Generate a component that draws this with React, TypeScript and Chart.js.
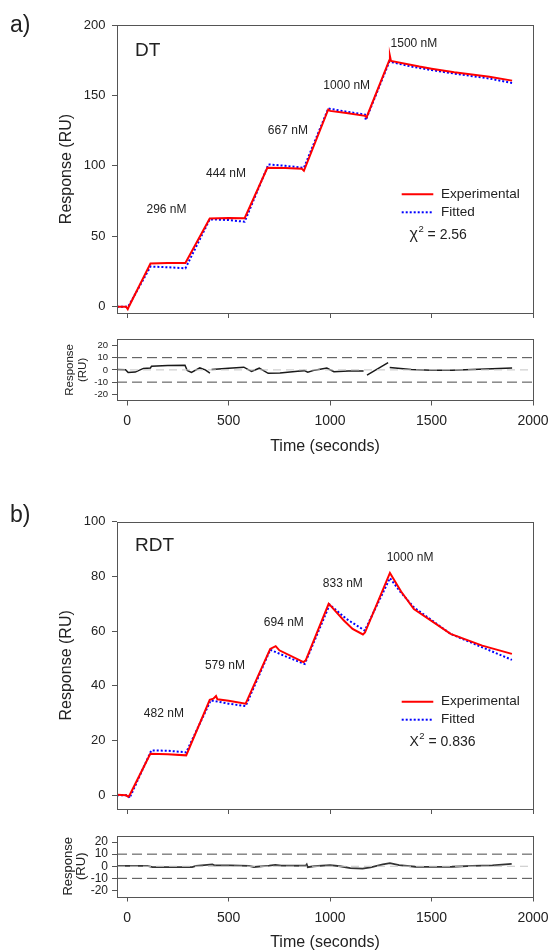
import React, { useEffect, useRef } from "react";
import { Chart, registerables } from "chart.js";

Chart.register(...registerables);

const FONT = '"Liberation Sans", Arial, Helvetica, sans-serif';
const FRAME = "#555555";
const TEXT = "#222222";
const RED = "rgb(255,0,0)";
const BLUE = "rgb(0,0,255)";

// ---- shared axes ----
const X_TICKS = [0, 500, 1000, 1500, 2000];
const A_Y_TICKS = [0, 50, 100, 150, 200];
const B_Y_TICKS = [0, 20, 40, 60, 80, 100];
const RES_Y_TICKS = [-20, -10, 0, 10, 20];
const RES_LIMITS = [10, -10];
const LEGEND_LABELS = ["Experimental", "Fitted"];
const X_TITLE = "Time (seconds)";
const Y_TITLE = "Response (RU)";

// ---- panel a (DT) ----
const A_EXP_T = [-50, -5, 3, 10, 115, 200, 287, 407, 500, 579, 691, 780, 860, 871, 991, 1000, 1080, 1172, 1180, 1292, 1295, 1300, 1440, 1500, 1612, 1785, 1897];
const A_EXP_Y = [0, 0, -1.8, 0.5, 30.7, 31, 31, 62.6, 63, 62.8, 98.6, 98.5, 98, 96.5, 140, 139, 137.5, 135.5, 134.5, 175, 178, 174.5, 170.5, 169, 166.5, 163.3, 160.5];
const A_FIT_T = [-50, 5, 115, 200, 287, 407, 500, 579, 696, 780, 871, 991, 1080, 1172, 1176, 1292, 1400, 1500, 1612, 1785, 1897];
const A_FIT_Y = [0, 0, 28.5, 28, 27.2, 62, 61.5, 60.3, 101, 100, 98.6, 140.7, 138.5, 136.4, 132.5, 174, 170.5, 168, 165.5, 162, 158.8];
const A_RES_T = [-50, -8, 5, 40, 80, 115, 120, 200, 285, 296, 317, 358, 385, 408, 412, 416, 500, 575, 613, 651, 695, 753, 840, 873, 890, 924, 984, 1019, 1090, 1165, 1172, 1182, 1286, 1290, 1294, 1400, 1500, 1600, 1700, 1800, 1897];
const A_RES_Y = [0.3, 0.2, -2.2, -1.8, 1.2, 1.6, 3, 3.6, 3.8, -0.5, -2, 1.6, 0, -2.6, null, 0.3, 1.4, 2.2, -1.2, 1.4, -2.8, -2.5, -1.2, -0.6, -1.8, -0.2, 1.5, -1.5, -1, -1, null, -4.3, 5.9, null, 2, 0.3, -0.2, -0.2, 0.3, 0.9, 1.5];
const A_CONC_LABELS = ["296 nM", "444 nM", "667 nM", "1000 nM", "1500 nM"];
const A_CONC_T = [194, 487, 792, 1082, 1413];
const A_CONC_Y = [68.7, 94.2, 124.7, 156.7, 187];
const A_NAME = "DT";
const A_CHI = "2.56";

// ---- panel b (RDT) ----
const B_EXP_T = [-50, -5, 5, 12, 114, 200, 291, 407, 425, 438, 445, 500, 584, 705, 732, 750, 869, 880, 993, 1000, 1068, 1111, 1162, 1172, 1295, 1350, 1413, 1594, 1750, 1896];
const B_EXP_Y = [0.2, 0, -0.5, 0, 15.2, 15, 14.6, 34.9, 35.3, 36.3, 35.1, 34.6, 33.5, 53.5, 54.5, 53, 48.7, 49.3, 70, 69.5, 63.9, 60.8, 58.8, 59.5, 81.3, 74.5, 68.1, 59, 54.7, 51.7];
const B_FIT_T = [-50, 5, 12, 119, 200, 291, 412, 500, 584, 705, 790, 875, 998, 1080, 1171, 1295, 1350, 1413, 1594, 1750, 1896];
const B_FIT_Y = [0, 0, -1, 16.4, 16.3, 15.7, 34.7, 33.5, 32.6, 53.2, 50.5, 48, 69.7, 64.5, 60.2, 79.4, 74, 68.7, 59, 54.1, 49.5];
const B_RES_T = [-50, 100, 125, 200, 320, 340, 420, 430, 510, 600, 625, 700, 730, 760, 880, 885, 890, 920, 1000, 1050, 1100, 1160, 1200, 1260, 1295, 1340, 1420, 1500, 1600, 1700, 1800, 1895];
const B_RES_Y = [0.3, 0.3, -0.8, -0.8, -0.8, 0.3, 1.5, 0.8, 0.8, 0.3, -0.6, 0.5, 1.2, 0.5, 0.4, 1.5, -0.8, 0, 1, 0, -1.5, -2, -1, 1.5, 2.5, 1, -0.4, -0.5, -0.4, 0.3, 0.8, 2];
const B_CONC_LABELS = ["482 nM", "579 nM", "694 nM", "833 nM", "1000 nM"];
const B_CONC_T = [181, 482, 772, 1063, 1394];
const B_CONC_Y = [29.8, 47.4, 63.2, 77.5, 87];
const B_NAME = "RDT";
const B_CHI = "0.836";

const W = 549;
const AREA_LEFT = 117;
const AREA_RIGHT = 533;

const pts = (t: number[], y: (number | null)[]) => t.map((v, i) => ({ x: v, y: y[i] }));

function font(size: number) {
  return `${size}px ${FONT}`;
}

function text(ctx: CanvasRenderingContext2D, s: string, x: number, y: number, size: number, align: CanvasTextAlign = "left", baseline: CanvasTextBaseline = "alphabetic") {
  ctx.font = font(size);
  ctx.fillStyle = TEXT;
  ctx.textAlign = align;
  ctx.textBaseline = baseline;
  ctx.fillText(s, x, y);
}

function vtext(ctx: CanvasRenderingContext2D, s: string, x: number, y: number, size: number) {
  ctx.save();
  ctx.translate(x, y);
  ctx.rotate(-Math.PI / 2);
  text(ctx, s, 0, 0, size, "center", "middle");
  ctx.restore();
}

type Spec = {
  key: string;
  top: number;
  height: number;
  areaTop: number;
  areaBottom: number;
  yMin: number;
  yMax: number;
  yTicks: number[];
  yTickSize: number;
  yTickPad: number;
  xLabels: boolean;
  xTickPad: number;
  datasets: any[];
  draw: (ctx: CanvasRenderingContext2D, chart: any) => void;
};

function mainDatasets(et: number[], ey: number[], ft: number[], fy: number[]) {
  return [
    { label: LEGEND_LABELS[0], data: pts(et, ey), borderColor: RED, borderWidth: 2, pointRadius: 0, tension: 0, fill: false },
    { label: LEGEND_LABELS[1], data: pts(ft, fy), borderColor: BLUE, borderWidth: 2, borderDash: [2, 2], pointRadius: 0, tension: 0, fill: false },
  ];
}

function resDatasets(rt: number[], ry: (number | null)[], color: string, width: number) {
  const ends = [X_TICKS[0] - 50, X_TICKS[X_TICKS.length - 1]];
  return [
    { data: pts(ends, [0, 0]), borderColor: "#c4c4c4", borderWidth: 1, borderDash: [8, 5], pointRadius: 0 },
    ...RES_LIMITS.map((v) => ({ data: pts(ends, [v, v]), borderColor: "#4a4a4a", borderWidth: 1, borderDash: [10, 5], pointRadius: 0 })),
    { data: pts(rt, ry), borderColor: color, borderWidth: width, pointRadius: 0, tension: 0, spanGaps: false },
  ];
}

function drawMain(name: string, letter: string, letterY: number, nameDy: number, labels: string[], lt: number[], ly: number[], legDy: number, chiDy: number, chiSym: string, chiSize: number, chi: string) {
  return (ctx: CanvasRenderingContext2D, chart: any) => {
    const a = chart.chartArea;
    const sx = chart.scales.x;
    const sy = chart.scales.y;
    text(ctx, letter, 10, letterY, 23);
    text(ctx, name, a.left + 18, a.top + nameDy, 19);
    labels.forEach((s, i) => text(ctx, s, sx.getPixelForValue(lt[i]), sy.getPixelForValue(ly[i]), 12, "center", "middle"));
    vtext(ctx, Y_TITLE, 66.5, (a.top + a.bottom) / 2, 16);
    // legend
    const x0 = a.right - 131.3;
    const x1 = a.right - 99.7;
    const rows = [a.top + legDy, a.top + legDy + 18];
    const styles = [
      { c: RED, d: [] as number[] },
      { c: BLUE, d: [2, 2] },
    ];
    rows.forEach((y, i) => {
      ctx.save();
      ctx.strokeStyle = styles[i].c;
      ctx.lineWidth = 2;
      ctx.setLineDash(styles[i].d);
      ctx.beginPath();
      ctx.moveTo(x0, y);
      ctx.lineTo(x1, y);
      ctx.stroke();
      ctx.restore();
      text(ctx, LEGEND_LABELS[i], a.right - 92, y, 13.5, "left", "middle");
    });
    const cy = a.top + chiDy;
    let cx = a.right - 123.5;
    ctx.font = font(chiSize);
    text(ctx, chiSym, cx, cy + 5, chiSize);
    cx += ctx.measureText(chiSym).width + 0.5;
    text(ctx, "2", cx, cy - 2, 9.5);
    ctx.font = font(9.5);
    cx += ctx.measureText("2").width;
    text(ctx, " = " + chi, cx, cy + 5, 14);
  };
}

function drawRes(nameX: number, size: number, titleY: number) {
  return (ctx: CanvasRenderingContext2D, chart: any) => {
    const a = chart.chartArea;
    const mid = (a.top + a.bottom) / 2;
    vtext(ctx, "Response", nameX, mid, size);
    vtext(ctx, "(RU)", nameX + 13, mid, size);
    text(ctx, X_TITLE, (a.left + a.right) / 2, titleY, 16, "center", "middle");
  };
}

const SPECS: Spec[] = [
  {
    key: "a1", top: 0, height: 320, areaTop: 25, areaBottom: 313,
    yMin: -4.5, yMax: 200, yTicks: A_Y_TICKS, yTickSize: 13, yTickPad: 6.5, xLabels: false, xTickPad: 7,
    datasets: mainDatasets(A_EXP_T, A_EXP_Y, A_FIT_T, A_FIT_Y),
    draw: drawMain(A_NAME, "a)", 31.5, 31, A_CONC_LABELS, A_CONC_T, A_CONC_Y, 169.3, 209, "\u03c7", 16, A_CHI),
  },
  {
    key: "a2", top: 325, height: 135, areaTop: 14.3, areaBottom: 75.5,
    yMin: -25, yMax: 25, yTicks: RES_Y_TICKS, yTickSize: 9.5, yTickPad: 4, xLabels: true, xTickPad: 7,
    datasets: resDatasets(A_RES_T, A_RES_Y, "#1a1a1a", 1.5),
    draw: drawRes(70, 11.5, 121.7),
  },
  {
    key: "b1", top: 470, height: 345, areaTop: 51.7, areaBottom: 339,
    yMin: -5, yMax: 100, yTicks: B_Y_TICKS, yTickSize: 13, yTickPad: 6.5, xLabels: false, xTickPad: 7,
    datasets: mainDatasets(B_EXP_T, B_EXP_Y, B_FIT_T, B_FIT_Y),
    draw: drawMain(B_NAME, "b)", 51.7, 29.3, B_CONC_LABELS, B_CONC_T, B_CONC_Y, 180, 219.3, "X", 14, B_CHI),
  },
  {
    key: "b2", top: 820, height: 131, areaTop: 16, areaBottom: 76.5,
    yMin: -25, yMax: 25, yTicks: RES_Y_TICKS, yTickSize: 12, yTickPad: 4, xLabels: true, xTickPad: 8,
    datasets: resDatasets(B_RES_T, B_RES_Y, "#333333", 1.8),
    draw: drawRes(68, 13, 123),
  },
];

function buildConfig(spec: Spec): any {
  const grid = { display: true, drawOnChartArea: false, drawTicks: true, tickLength: 5, color: FRAME, lineWidth: 1 };
  const overlay = {
    id: "overlay_" + spec.key,
    afterDatasetsDraw(chart: any) {
      const { ctx, chartArea: a } = chart;
      ctx.save();
      ctx.strokeStyle = FRAME;
      ctx.lineWidth = 1;
      ctx.setLineDash([]);
      ctx.strokeRect(Math.round(a.left) + 0.5, Math.round(a.top) + 0.5, Math.round(a.right - a.left), Math.round(a.bottom - a.top));
      ctx.restore();
    },
    afterDraw(chart: any) {
      const ctx = chart.ctx;
      ctx.save();
      spec.draw(ctx, chart);
      ctx.restore();
    },
  };
  return {
    type: "line",
    data: { datasets: spec.datasets },
    plugins: [overlay],
    options: {
      responsive: false,
      maintainAspectRatio: false,
      animation: false,
      devicePixelRatio: 1,
      layout: { padding: { left: 0, right: W - AREA_RIGHT, top: spec.areaTop, bottom: 0 } },
      plugins: { legend: { display: false }, tooltip: { enabled: false }, title: { display: false } },
      scales: {
        x: {
          type: "linear",
          min: X_TICKS[0] - 50,
          max: X_TICKS[X_TICKS.length - 1],
          afterBuildTicks: (s: any) => { s.ticks = X_TICKS.map((v) => ({ value: v })); },
          afterFit: (s: any) => { s.height = spec.height - spec.areaBottom; s.paddingLeft = 0; s.paddingRight = 0; },
          grid,
          border: { display: false },
          ticks: { display: spec.xLabels, font: { family: FONT, size: 14 }, color: TEXT, padding: spec.xTickPad, maxRotation: 0, autoSkip: false, callback: (v: any) => String(v) },
        },
        y: {
          type: "linear",
          min: spec.yMin,
          max: spec.yMax,
          afterBuildTicks: (s: any) => { s.ticks = spec.yTicks.map((v) => ({ value: v })); },
          afterFit: (s: any) => { s.width = AREA_LEFT; s.paddingTop = 0; s.paddingBottom = 0; },
          grid,
          border: { display: false },
          ticks: { font: { family: FONT, size: spec.yTickSize }, color: TEXT, padding: spec.yTickPad, autoSkip: false, callback: (v: any) => String(v) },
        },
      },
    },
  };
}

function Panel({ spec }: { spec: Spec }) {
  const ref = useRef<HTMLCanvasElement>(null);
  useEffect(() => {
    const canvas = ref.current;
    if (!canvas) return;
    const chart = new Chart(canvas, buildConfig(spec));
    return () => chart.destroy();
  }, [spec]);
  return (
    <canvas
      ref={ref}
      width={W}
      height={spec.height}
      style={{ position: "absolute", left: 0, top: spec.top, width: W, height: spec.height, display: "block" }}
    />
  );
}

export default function App() {
  return (
    <div style={{ position: "absolute", left: 0, top: 0, width: W, height: 951, overflow: "hidden", background: "#ffffff" }}>
      {SPECS.map((s) => (
        <Panel key={s.key} spec={s} />
      ))}
    </div>
  );
}
